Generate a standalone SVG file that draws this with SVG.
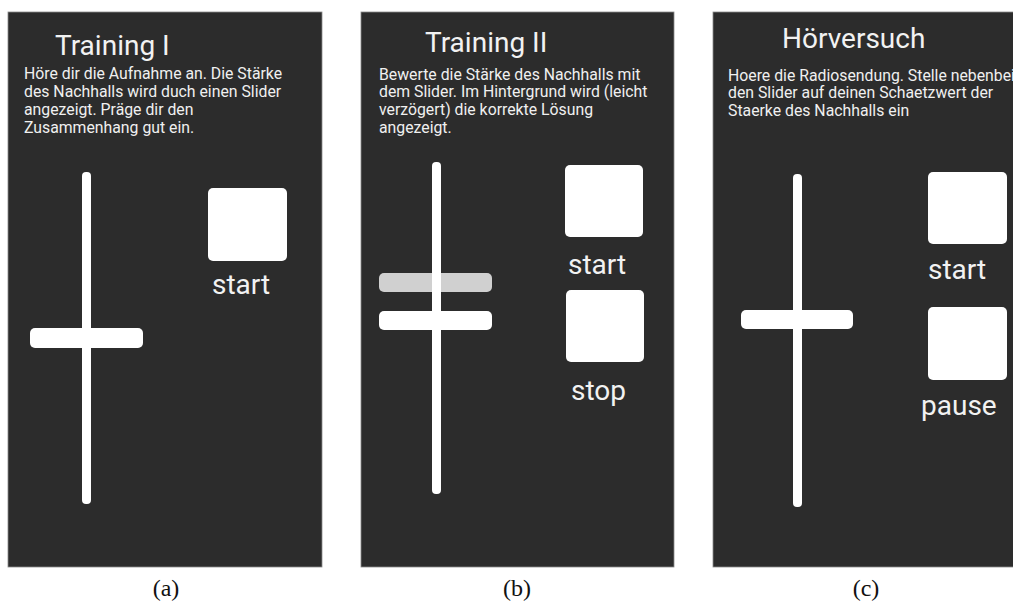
<svg xmlns="http://www.w3.org/2000/svg" width="1013" height="609" viewBox="0 0 1013 609">
<style>
.panel{fill:#2c2c2c;stroke:#8a8a8a;stroke-width:0.8}
.title{font-family:Roboto,"Liberation Sans",sans-serif;font-size:28px;fill:#f2f2f2}
.body{font-family:Roboto,"Liberation Sans",sans-serif;font-size:15.8px;fill:#f0f0f0}
.btnlbl{font-family:Roboto,"Liberation Sans",sans-serif;font-size:28px;fill:#f2f2f2}
.cap{font-family:"Liberation Serif",serif;font-size:24px;fill:#111;text-anchor:middle}
.track{fill:#ffffff}
.thumb{fill:#ffffff}
.ghost{fill:#ffffff;fill-opacity:0.78}
.btn{fill:#ffffff}
</style>
<rect width="1013" height="609" fill="#ffffff"/>
<g id="panel-a">
<rect class="panel" x="8" y="12" width="314" height="555"/>
<text class="title" x="55" y="55">Training I</text>
<text class="body" x="24" y="79">Höre dir die Aufnahme an. Die Stärke</text>
<text class="body" x="24" y="97">des Nachhalls wird duch einen Slider</text>
<text class="body" x="24" y="115">angezeigt. Präge dir den</text>
<text class="body" x="24" y="133">Zusammenhang gut ein.</text>
<rect class="track" x="82" y="172" width="9" height="332" rx="4"/>
<rect class="thumb" x="30" y="328" width="113" height="20" rx="5"/>
<rect class="btn" x="208" y="188" width="79" height="73" rx="5"/>
<text class="btnlbl" x="212" y="294">start</text>
</g>
<g id="panel-b">
<rect class="panel" x="361" y="12" width="313" height="555"/>
<text class="title" x="425" y="52">Training II</text>
<text class="body" x="379" y="80">Bewerte die Stärke des Nachhalls mit</text>
<text class="body" x="379" y="97">dem Slider. Im Hintergrund wird (leicht</text>
<text class="body" x="379" y="115">verzögert) die korrekte Lösung</text>
<text class="body" x="379" y="133">angezeigt.</text>
<rect class="track" x="432" y="162" width="9" height="332" rx="4"/>
<rect class="ghost" x="379" y="273" width="113" height="19" rx="5"/>
<rect class="thumb" x="379" y="311" width="113" height="19" rx="5"/>
<rect class="btn" x="565" y="165" width="78" height="72" rx="5"/>
<text class="btnlbl" x="568" y="274">start</text>
<rect class="btn" x="566" y="290" width="78" height="72" rx="5"/>
<text class="btnlbl" x="571" y="400">stop</text>
</g>
<g id="panel-c">
<rect class="panel" x="713" y="12" width="302" height="555"/>
<text class="title" x="782" y="48">Hörversuch</text>
<text class="body" x="728" y="81">Hoere die Radiosendung. Stelle nebenbei</text>
<text class="body" x="728" y="98">den Slider auf deinen Schaetzwert der</text>
<text class="body" x="728" y="116">Staerke des Nachhalls ein</text>
<rect class="track" x="793" y="174" width="9" height="333" rx="4"/>
<rect class="thumb" x="741" y="310" width="112" height="19" rx="5"/>
<rect class="btn" x="928" y="172" width="79" height="72" rx="5"/>
<text class="btnlbl" x="928" y="279">start</text>
<rect class="btn" x="928" y="307" width="79" height="73" rx="5"/>
<text class="btnlbl" x="921" y="415">pause</text>
</g>
<g id="captions">
<text class="cap" x="166" y="596">(a)</text>
<text class="cap" x="517" y="596">(b)</text>
<text class="cap" x="866" y="596">(c)</text>
</g>
<g id="connectors"/>
</svg>
